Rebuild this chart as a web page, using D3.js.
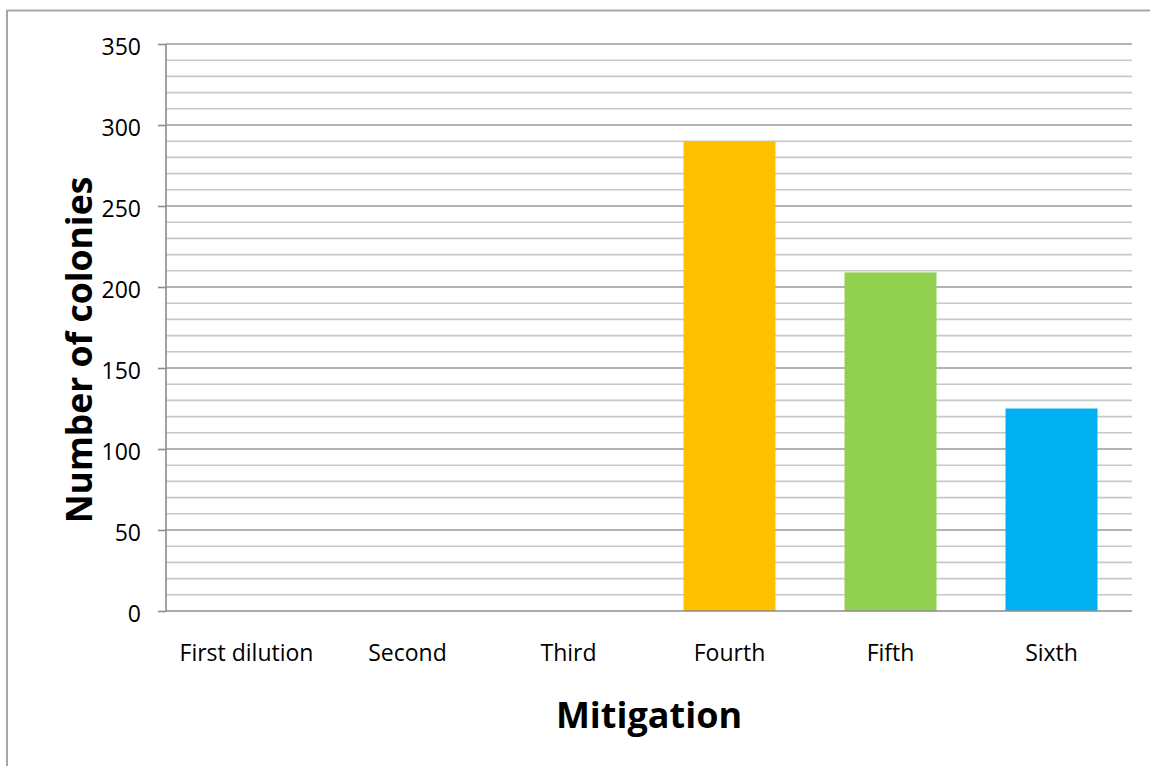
<!DOCTYPE html>
<html>
<head>
<meta charset="utf-8">
<script src="https://cdn.jsdelivr.net/npm/d3@7"></script>
<style>
  html, body { margin: 0; padding: 0; background: #fff; }
  svg { display: block; }
  text { font-family: "Open Sans", "Noto Sans", sans-serif; fill: #000; }
</style>
</head>
<body>
<svg id="chart" width="1150" height="766"></svg>
<script>
// Colony counts per dilution step
const categories = ["First dilution", "Second", "Third", "Fourth", "Fifth", "Sixth"];
const colonies = [0, 0, 0, 290, 209, 125];
const barColors = ["#5B9BD5", "#5B9BD5", "#5B9BD5", "#FFC000", "#92D050", "#00B0F0"];
const majorTicks = [0, 50, 100, 150, 200, 250, 300, 350];
const yMax = 350;
const minorStep = 10;

const svg = d3.select("#chart");
const W = 1150, H = 766;
const m = { left: 166, right: 1132, top: 44, bottom: 611 };

// Outer chart frame (top and left edges are visible)
svg.append("line").attr("x1", 7).attr("x2", W).attr("y1", 10.5).attr("y2", 10.5)
  .attr("stroke", "#a6a6a6").attr("stroke-width", 2);
svg.append("line").attr("x1", 7).attr("x2", 7).attr("y1", 10).attr("y2", H)
  .attr("stroke", "#a6a6a6").attr("stroke-width", 2);

const x = d3.scaleBand().domain(categories).range([m.left, m.right]).paddingInner(0.4286).paddingOuter(0.2143);
const y = d3.scaleLinear().domain([0, yMax]).range([m.bottom, m.top]);

// Minor gridlines
const minorVals = d3.range(minorStep, yMax, minorStep).filter(v => v % 50 !== 0);
svg.append("g").selectAll("line").data(minorVals).join("line")
  .attr("x1", m.left).attr("x2", m.right)
  .attr("y1", d => y(d)).attr("y2", d => y(d))
  .attr("stroke", "#c8c8c8").attr("stroke-width", 1.6);

// Major gridlines
svg.append("g").selectAll("line").data(majorTicks.filter(v => v > 0)).join("line")
  .attr("x1", m.left).attr("x2", m.right)
  .attr("y1", d => y(d)).attr("y2", d => y(d))
  .attr("stroke", "#9a9a9a").attr("stroke-width", 1.6);

// Bars
svg.append("g").selectAll("rect").data(categories).join("rect")
  .attr("x", d => x(d))
  .attr("width", x.bandwidth())
  .attr("y", (d, i) => y(colonies[i]))
  .attr("height", (d, i) => y(0) - y(colonies[i]))
  .attr("fill", (d, i) => barColors[i]);

// Y axis
const yAxis = svg.append("g").attr("transform", `translate(${m.left},0)`)
  .call(d3.axisLeft(y).tickValues(majorTicks).tickSize(8).tickPadding(17).tickFormat(d3.format("d")));
yAxis.select(".domain").attr("stroke", "#8c8c8c").attr("stroke-width", 1.6).attr("d", `M0,${m.top}V${m.bottom}`);
yAxis.selectAll(".tick line").attr("stroke", "#8c8c8c").attr("stroke-width", 1.6);
yAxis.selectAll(".tick text").style("font-size", "23px").style("font-family", "'Open Sans', sans-serif")
  .attr("fill", "#000").attr("dy", "0.45em");

// X axis
const xAxis = svg.append("g").attr("transform", `translate(0,${m.bottom})`)
  .call(d3.axisBottom(x).tickSize(0).tickPadding(34));
xAxis.select(".domain").attr("stroke", "#8c8c8c").attr("stroke-width", 1.6).attr("d", `M${m.left},0H${m.right}`);
xAxis.selectAll(".tick text").style("font-size", "23px").style("font-family", "'Open Sans', sans-serif").attr("fill", "#000");

// Axis titles
svg.append("text")
  .attr("x", 649).attr("y", 728)
  .attr("text-anchor", "middle")
  .style("font-size", "36px").style("font-weight", "bold")
  .text("Mitigation");

svg.append("text")
  .attr("transform", "translate(92,350) rotate(-90)")
  .attr("text-anchor", "middle")
  .style("font-size", "35.5px").style("font-weight", "bold")
  .text("Number of colonies");
</script>
</body>
</html>
